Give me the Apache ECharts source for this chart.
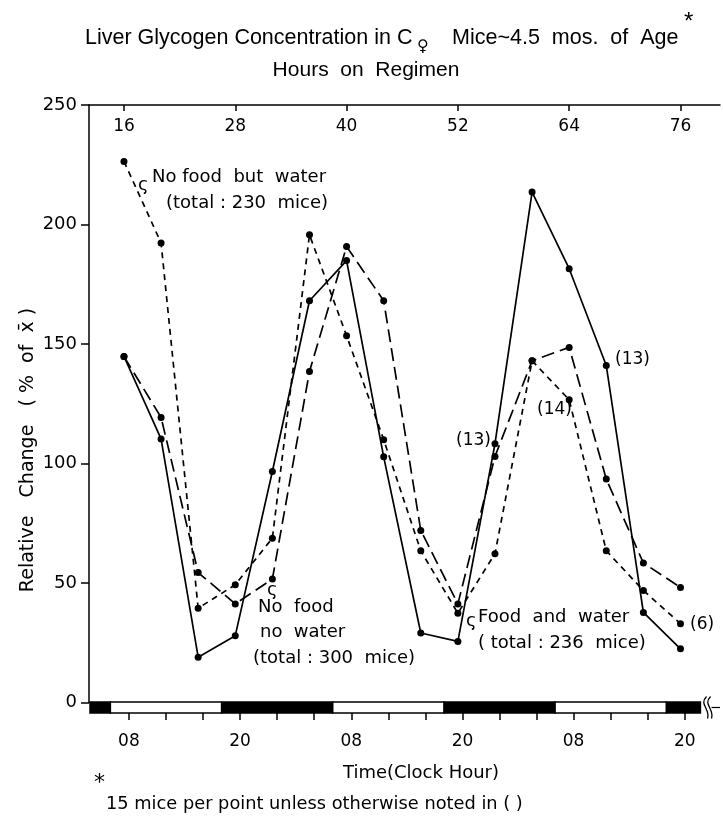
<!DOCTYPE html>
<html><head><meta charset="utf-8">
<script src="https://cdn.jsdelivr.net/npm/echarts@6/dist/echarts.min.js"></script>
<style>html,body{margin:0;padding:0;background:#fff}#c{width:723px;height:816px}</style>
</head><body><div id="c"></div>
<script>
// ---- data ----
const hours = [16,20,24,28,32,36,40,44,48,52,56,60,64,68,72,76];
const foodAndWater   = [144.8,110.3,19.0,28.0,96.7,168.1,184.9,102.8,29.1,25.6,108.3,213.6,181.5,141.0,37.7,22.5];
const noFoodNoWater  = [144.8,119.3,54.4,41.3,51.7,138.5,190.8,168.1,72.0,41.3,103.0,143.0,148.6,93.5,58.4,48.2];
const noFoodButWater = [226.4,192.3,39.5,49.3,68.8,195.7,153.5,110.0,63.5,37.4,62.3,143.0,126.7,63.5,46.9,33.0];
const regimenTicks = [16,28,40,52,64,76];
const clockTicks = [16,20,24,28,32,36,40,44,48,52,56,60,64,68,72,76];
const clockLabelValues = [16,28,40,52,64,76];
const clockLabels = ['08','20','08','20','08','20'];
const lightStart = [14,38,62];
const lightEnd   = [26,50,74];
const darkStart  = [2,26,50,74];
const darkEnd    = [14,38,62,86];
const breakAt = 77.7;

const FONT = '"DejaVu Sans", sans-serif';
const TFONT = '"Liberation Sans", sans-serif';
const chart = echarts.init(document.getElementById('c'), null, {renderer:'canvas'});

const xMin0 = 12.23, xMax0 = 80.26;
const xMin1 = 11.8, xMax1 = 79.8;

const periods = [];
darkStart.forEach((s,i)=>periods.push([Math.max(s,xMin1), Math.min(darkEnd[i],breakAt), 1]));
lightStart.forEach((s,i)=>periods.push([Math.max(s,xMin1), Math.min(lightEnd[i],breakAt), 0]));

function mk(vals){ return hours.map((h,i)=>[h, vals[i]]); }
function lineSeries(name, vals, dash){
  return {
    name, type:'line', xAxisIndex:0, yAxisIndex:0, data: mk(vals),
    symbol:'circle', symbolSize:7, showSymbol:true,
    lineStyle:{color:'#000', width:1.7, type:dash},
    itemStyle:{color:'#000'}, z:3, animation:false
  };
}

const txt = (t, x, y, opt={}) => ({
  type:'text', x, y, silent:true,
  style:Object.assign({text:t, font:`18px ${FONT}`, fill:'#000', textAlign:'left', textVerticalAlign:'middle'}, opt)
});

chart.setOption({
  animation:false,
  backgroundColor:'#fff',
  grid:[
    {left:89, right:3, top:105, height:597.6, containLabel:false},
    {left:90, right:3, top:702, height:11, containLabel:false}
  ],
  xAxis:[
    {gridIndex:0, type:'value', position:'top', min:xMin0, max:xMax0,
     axisLine:{show:true, onZero:false, lineStyle:{color:'#000', width:1.5}},
     axisTick:{show:true, inside:true, length:6, customValues:regimenTicks, lineStyle:{color:'#000', width:1.5}},
     axisLabel:{show:true, inside:true, margin:13, customValues:regimenTicks, color:'#000', fontSize:17, fontFamily:'DejaVu Sans'},
     splitLine:{show:false}},
    {gridIndex:1, type:'value', position:'bottom', min:xMin1, max:xMax1,
     axisLine:{show:false},
     axisTick:{show:true, length:7, customValues:clockTicks, lineStyle:{color:'#000', width:1.5}},
     axisLabel:{show:true, margin:20, customValues:clockLabelValues, color:'#000', fontSize:17, fontFamily:'DejaVu Sans',
       formatter:(v)=>clockLabels[clockLabelValues.indexOf(Math.round(v))] || ''},
     splitLine:{show:false}}
  ],
  yAxis:[
    {gridIndex:0, type:'value', min:0, max:250, interval:50,
     axisLine:{show:true, lineStyle:{color:'#000', width:1.5}},
     axisTick:{show:true, length:8, lineStyle:{color:'#000', width:1.5}},
     axisLabel:{show:true, margin:12, color:'#000', fontSize:18, fontFamily:'DejaVu Sans'},
     splitLine:{show:false}},
    {gridIndex:1, type:'value', min:0, max:1, show:false}
  ],
  series:[
    lineSeries('Food and water', foodAndWater, 'solid'),
    lineSeries('No food no water', noFoodNoWater, [13,6]),
    lineSeries('No food but water', noFoodButWater, [6,5]),
    {type:'custom', xAxisIndex:1, yAxisIndex:1, data:periods, z:2, animation:false,
     renderItem(params, api){
       const s=api.value(0), e=api.value(1), dark=api.value(2);
       const p1=api.coord([s,1]), p2=api.coord([e,0]);
       return {type:'rect', shape:{x:p1[0], y:p1[1], width:p2[0]-p1[0], height:p2[1]-p1[1]},
               style:{fill: dark ? '#000' : '#fff', stroke:'#000', lineWidth:1.5}};
     }},
    {type:'custom', xAxisIndex:1, yAxisIndex:1, data:[[breakAt]], z:2, animation:false,
     renderItem(params, api){
       const p=api.coord([api.value(0),0.5]);
       const pe=api.coord([xMax1,0.5]);
       const cx=p[0], cy=p[1];
       return {type:'group', children:[
         {type:'rect', shape:{x:cx+1, y:cy-9, width:10, height:18}, style:{fill:'#fff'}},
         {type:'bezierCurve', shape:{x1:cx+6,y1:cy-11,x2:cx+7,y2:cy+11,cpx1:cx-2,cpy1:cy-3,cpx2:cx+10,cpy2:cy+1}, style:{stroke:'#000', lineWidth:1.3, fill:null}},
         {type:'bezierCurve', shape:{x1:cx+10,y1:cy-11,x2:cx+11,y2:cy+11,cpx1:cx+2,cpy1:cy-3,cpx2:cx+14,cpy2:cy+1}, style:{stroke:'#000', lineWidth:1.3, fill:null}},
         {type:'line', shape:{x1:cx+11, y1:cy, x2:pe[0], y2:cy}, style:{stroke:'#000', lineWidth:1.2}}
       ]};
     }}
  ],
  graphic:[
    txt('Liver Glycogen Concentration in C', 85, 38, {font:`21.5px ${TFONT}`}),
    txt('♀', 417, 47, {font:`16px "DejaVu Sans", sans-serif`}),
    txt('Mice~4.5  mos.  of  Age', 452, 38, {font:`21.5px ${TFONT}`}),
    txt('*', 684, 22, {font:`24px ${TFONT}`}),
    txt('Hours  on  Regimen', 366, 70, {font:`21px ${TFONT}`, textAlign:'center'}),
    {type:'text', x:28, y:450, rotation:Math.PI/2, silent:true,
     style:{text:'Relative   Change   ( %  of  x̄ )', font:`19px ${FONT}`, fill:'#000', textAlign:'center', textVerticalAlign:'middle'}},
    txt('Time(Clock Hour)', 421, 773, {textAlign:'center'}),
    txt('*', 94, 783, {font:`22px ${FONT}`}),
    txt('15 mice per point unless otherwise noted in ( )', 106, 804, {font:`17.8px ${FONT}`}),
    txt('ς', 138, 185, {font:`18px ${FONT}`}),
    txt('No food  but  water', 152, 177),
    txt('(total : 230  mice)', 166, 203),
    txt('ς', 267, 590, {font:`18px ${FONT}`}),
    txt('No  food', 258, 607),
    txt('no  water', 260, 632),
    txt('(total : 300  mice)', 253, 658),
    txt('ς', 466, 621, {font:`18px ${FONT}`}),
    txt('Food  and  water', 478, 617),
    txt('( total : 236  mice)', 478, 643),
    txt('(13)', 615, 360, {font:`17px ${FONT}`}),
    txt('(14)', 537, 410, {font:`17px ${FONT}`}),
    txt('(13)', 456, 441, {font:`17px ${FONT}`}),
    txt('(6)', 690, 625, {font:`17px ${FONT}`})
  ]
});
</script></body></html>
